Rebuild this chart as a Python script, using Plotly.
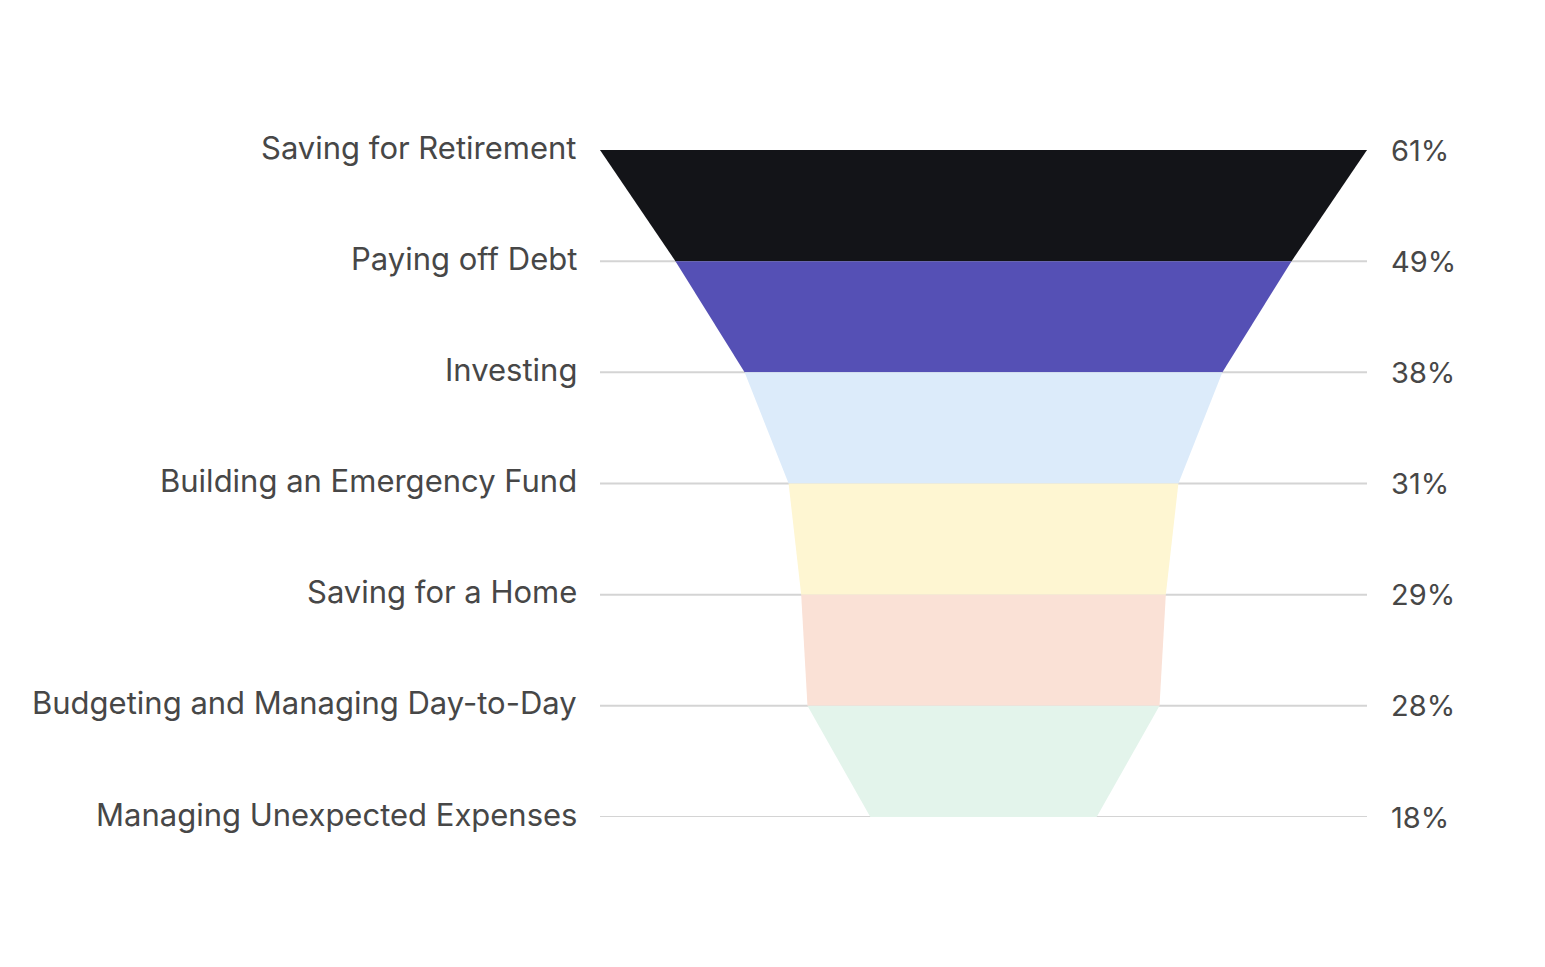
import plotly.graph_objects as go

categories = ["Saving for Retirement", "Paying off Debt", "Investing",
              "Building an Emergency Fund", "Saving for a Home",
              "Budgeting and Managing Day-to-Day", "Managing Unexpected Expenses"]
values = [61, 49, 38, 31, 29, 28, 18]
value_labels = ["61%", "49%", "38%", "31%", "29%", "28%", "18%"]
band_colors = ["#131418", "#5550b5", "#dcebfa", "#fef6d2", "#fae1d6", "#e3f4eb"]

n = len(categories)
levels = [n - 1 - i for i in range(n)]  # top level highest y
font_family = "Inter, Lato, sans-serif"
text_color = "#474747"

fig = go.Figure()
for i in range(n - 1):
    a, b = values[i] / 2, values[i + 1] / 2
    fig.add_trace(go.Scatter(
        x=[-a, a, b, -b, -a],
        y=[levels[i], levels[i], levels[i + 1], levels[i + 1], levels[i]],
        fill="toself", fillcolor=band_colors[i], mode="lines",
        line=dict(width=0, color=band_colors[i]), hoverinfo="skip", showlegend=False))

annotations = []
shapes = []
for i in range(n):
    annotations.append(dict(x=0, xref="paper", y=levels[i], yref="y", text=categories[i],
                            xanchor="right", yanchor="middle", xshift=-21, yshift=3, showarrow=False,
                            font=dict(size=31, color=text_color, family=font_family)))
    annotations.append(dict(x=1, xref="paper", y=levels[i], yref="y", text=value_labels[i],
                            xanchor="left", yanchor="middle", xshift=22, yshift=0, showarrow=False,
                            font=dict(size=29, color=text_color, family=font_family)))
    shapes.append(dict(type="line", xref="paper", x0=0, x1=1, yref="y", y0=levels[i], y1=levels[i],
                       line=dict(color="#d4d4d4", width=2), layer="below"))

fig.update_layout(
    width=1545, height=967,
    margin=dict(l=592, r=186, t=142, b=158),
    paper_bgcolor="white", plot_bgcolor="white",
    xaxis=dict(range=[-values[0] / 2, values[0] / 2], visible=False, fixedrange=True),
    yaxis=dict(range=[0, n - 1], visible=False, showgrid=False, zeroline=False),
    annotations=annotations,
    shapes=shapes,
)
fig.write_html("out.html")
